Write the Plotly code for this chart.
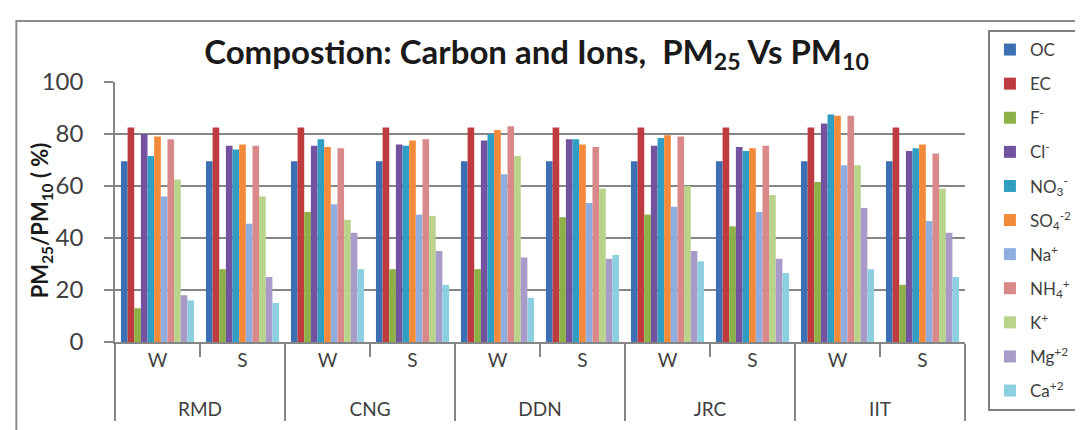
import plotly.graph_objects as go

sites = ["RMD", "CNG", "DDN", "JRC", "IIT"]
seasons = ["W", "S"]

# values per category: RMD W, RMD S, CNG W, CNG S, DDN W, DDN S, JRC W, JRC S, IIT W, IIT S
OC = [69.5, 69.5, 69.5, 69.5, 69.5, 69.5, 69.5, 69.5, 69.5, 69.5]
EC = [82.5, 82.5, 82.5, 82.5, 82.5, 82.5, 82.5, 82.5, 82.5, 82.5]
F = [13, 28, 50, 28, 28, 48, 49, 44.5, 61.5, 22]
Cl = [80, 75.5, 75.5, 76, 77.5, 78, 75.5, 75, 84, 73.5]
NO3 = [71.5, 74, 78, 75.5, 80, 78, 78.5, 73.5, 87.5, 74.5]
SO4 = [79, 76, 75, 77.5, 81.5, 76, 79.5, 74.5, 87, 76]
Na = [56, 45.5, 53, 49, 64.5, 53.5, 52, 50, 68, 46.5]
NH4 = [78, 75.5, 74.5, 78, 83, 75, 79, 75.5, 87, 72.5]
K = [62.5, 56, 47, 48.5, 71.5, 59, 60, 56.5, 68, 59]
Mg = [18, 25, 42, 35, 32.5, 32, 35, 32, 51.5, 42]
Ca = [16, 15, 28, 22, 17, 33.5, 31, 26.5, 28, 25]

series_names = ["OC", "EC", "F<sup>-</sup>", "Cl<sup>-</sup>", "NO<sub>3</sub><sup>-</sup>",
                "SO<sub>4</sub><sup>-2</sup>", "Na<sup>+</sup>", "NH<sub>4</sub><sup>+</sup>",
                "K<sup>+</sup>", "Mg<sup>+2</sup>", "Ca<sup>+2</sup>"]
series_values = [OC, EC, F, Cl, NO3, SO4, Na, NH4, K, Mg, Ca]
colors = ["#3C6FB4", "#BE3C3F", "#8DB048", "#7352A0", "#309DC2", "#F38A3A",
          "#8EAEE0", "#D9898A", "#B9D38A", "#A99BC9", "#8CCFE0"]

y_title = "<b>PM<sub>25</sub>/PM<sub>10</sub> ( %)</b>"

# site labels carry a leading line break so they sit lower, as in the original
x_sites = ["<br>" + s for s in sites for _ in seasons]
x_seasons = [se for _ in sites for se in seasons]
n_cat = len(x_seasons)

FONT = "Lato, 'Open Sans', sans-serif"
AX = "#868686"

fig = go.Figure()
for i, (name, vals, col) in enumerate(zip(series_names, series_values, colors)):
    fig.add_trace(go.Bar(
        x=[x_sites, x_seasons], y=vals, name=name,
        marker=dict(color=col, line=dict(width=0)),
        legendgroup=f"g{i}",
    ))

W, H = 1083, 430
L, R, T, B = 107, 123, 74, 96
pw, ph = W - L - R, H - T - B


def px_x(px):
    return (px - L) / pw


def px_y(py):
    return (H - B - py) / ph


fig.update_layout(
    width=W, height=H,
    margin=dict(l=L, r=R, t=T, b=B, pad=0),
    paper_bgcolor="white", plot_bgcolor="white",
    barmode="group", bargap=0.14, bargroupgap=0,
    font=dict(family=FONT, color="#404040"),
    title=dict(
        text="<b>Compostion: Carbon and Ions,  PM<sub>25</sub> Vs PM<sub>10</sub></b>",
        font=dict(family=FONT, size=33, color="#1a1a1a"),
        x=px_x(530), xref="paper", xanchor="center",
        y=1 - 44 / H, yref="container", yanchor="middle",
    ),
    legend=dict(
        x=px_x(983), y=px_y(22), xanchor="left", yanchor="top",
        xref="paper", yref="paper",
        bgcolor="white", bordercolor="#7f7f7f", borderwidth=2,
        font=dict(family=FONT, size=17, color="#404040"),
        tracegroupgap=9, traceorder="grouped",
        itemwidth=30, maxheight=420,
    ),
    yaxis=dict(
        range=[0, 100], dtick=20, tick0=0,
        showgrid=True, gridcolor=AX, gridwidth=2,
        showline=True, linecolor=AX, linewidth=1.5,
        ticks="outside", ticklen=9, tickcolor=AX, tickwidth=1.5,
        ticklabelstandoff=16,
        tickfont=dict(family=FONT, size=24, color="#404040"),
        zeroline=False,
    ),
    xaxis=dict(
        type="multicategory",
        showline=True, linecolor=AX, linewidth=1.5,
        ticks="outside", ticklen=13, tickcolor=AX, tickwidth=1.5,
        showdividers=True, dividercolor=AX, dividerwidth=1.5,
        tickfont=dict(family=FONT, size=19, color="#404040"),
        showgrid=False,
    ),
    # overlay axis used only to draw the long boundary ticks between W and S
    xaxis2=dict(
        overlaying="x", anchor="y", side="bottom",
        range=[-0.5, n_cat - 0.5], showgrid=False, zeroline=False,
        tickmode="array", tickvals=[k + 0.5 for k in range(n_cat - 1)],
        showticklabels=False, ticks="outside", ticklen=50,
        tickcolor=AX, tickwidth=1.5, showline=False,
    ),
    annotations=[
        dict(text=y_title, textangle=-90, showarrow=False,
             xref="paper", yref="paper", x=px_x(33), y=px_y(212),
             xanchor="center", yanchor="middle",
             font=dict(family=FONT, size=22, color="#1a1a1a")),
    ],
    shapes=[
        dict(type="rect", xref="paper", yref="paper",
             x0=px_x(8), x1=px_x(1080), y0=px_y(424), y1=px_y(13),
             line=dict(color="#8c8c8c", width=2), layer="below"),
    ],
)

fig.write_html("out.html")
